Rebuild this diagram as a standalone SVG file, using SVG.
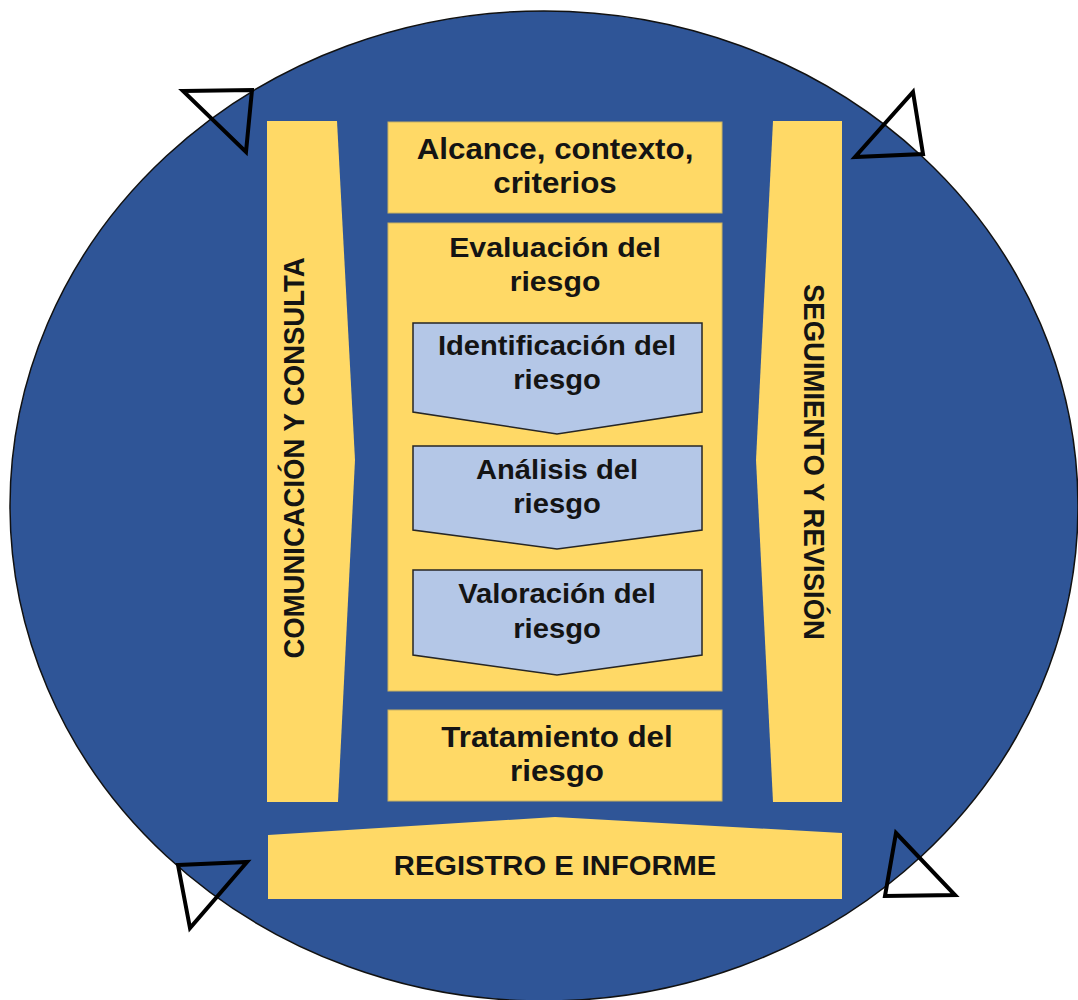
<svg xmlns="http://www.w3.org/2000/svg" width="1078" height="1000" viewBox="0 0 1078 1000">
  <style>
    .bg { fill: #ffffff; }
    .disc { fill: #2F5597; stroke: #111111; stroke-width: 1.5; }
    .box { fill: #FFD966; stroke: #C9B262; stroke-width: 1; }
    .band { fill: #FFD966; }
    .step { fill: #B4C7E7; stroke: #262626; stroke-width: 1.5; }
    .head { fill: none; stroke: #000000; stroke-width: 4; stroke-linejoin: miter; }
    text { font-family: "Liberation Sans", Arial, sans-serif; font-weight: bold; fill: #141414; text-anchor: middle; }
    .t29 { font-size: 29px; }
    .t28 { font-size: 28px; }
    .t27 { font-size: 27px; }
    .tv { font-size: 27.5px; }
  </style>

  <rect class="bg" x="0" y="0" width="1078" height="1000"/>

  <!-- cycle backdrop -->
  <ellipse id="cycle" class="disc" cx="544" cy="506" rx="534" ry="495"/>

  <!-- arrowheads riding on the cycle outline -->
  <g id="connectors">
    <polygon class="head" points="183,91 252,90 246,152"/>
    <polygon class="head" points="913,92 923,154 855,157"/>
    <polygon class="head" points="178,865 247,862 190,928"/>
    <polygon class="head" points="896,833 955,895 885,896"/>
  </g>

  <!-- left band -->
  <g id="comunicacion">
    <polygon class="band" points="267,121 337,121 355,460 338,802 267,802"/>
    <text class="tv" transform="translate(294,458) scale(1.08,1) rotate(-90)" x="0" y="9.5">COMUNICACIÓN Y CONSULTA</text>
  </g>

  <!-- right band -->
  <g id="seguimiento">
    <polygon class="band" points="773,121 842,121 842,802 773,802 756,460"/>
    <text class="tv" transform="translate(814,462) scale(1.08,1) rotate(90)" x="0" y="9.5">SEGUIMIENTO Y REVISIÓN</text>
  </g>

  <!-- bottom band -->
  <g id="registro">
    <polygon class="band" points="268,835 555,817 842,833 842,899 268,899"/>
    <text class="t27" transform="translate(555,875) scale(1.08,1)" x="0" y="0">REGISTRO E INFORME</text>
  </g>

  <g id="alcance">
    <rect class="box" x="388" y="122" width="334" height="91"/>
    <text class="t29" transform="translate(555,159) scale(1.08,1)" x="0" y="0">Alcance, contexto,</text>
    <text class="t29" transform="translate(555,193) scale(1.08,1)" x="0" y="0">criterios</text>
  </g>

  <g id="evaluacion">
    <rect class="box" x="388" y="223" width="334" height="468"/>
    <text class="t28" transform="translate(555,257) scale(1.08,1)" x="0" y="0">Evaluación del</text>
    <text class="t28" transform="translate(555,291) scale(1.08,1)" x="0" y="0">riesgo</text>
  </g>

  <g id="identificacion">
    <polygon class="step" points="413,323 702,323 702,412 557,434 413,412"/>
    <text class="t27" transform="translate(557,355) scale(1.08,1)" x="0" y="0">Identificación del</text>
    <text class="t27" transform="translate(557,389) scale(1.08,1)" x="0" y="0">riesgo</text>
  </g>

  <g id="analisis">
    <polygon class="step" points="413,446 702,446 702,530 557,549 413,530"/>
    <text class="t27" transform="translate(557,479) scale(1.08,1)" x="0" y="0">Análisis del</text>
    <text class="t27" transform="translate(557,513) scale(1.08,1)" x="0" y="0">riesgo</text>
  </g>

  <g id="valoracion">
    <polygon class="step" points="413,570 702,570 702,655 557,675 413,655"/>
    <text class="t27" transform="translate(557,603) scale(1.08,1)" x="0" y="0">Valoración del</text>
    <text class="t27" transform="translate(557,638) scale(1.08,1)" x="0" y="0">riesgo</text>
  </g>

  <g id="tratamiento">
    <rect class="box" x="388" y="710" width="334" height="91"/>
    <text class="t29" transform="translate(557,747) scale(1.08,1)" x="0" y="0">Tratamiento del</text>
    <text class="t29" transform="translate(557,781) scale(1.08,1)" x="0" y="0">riesgo</text>
  </g>
</svg>
